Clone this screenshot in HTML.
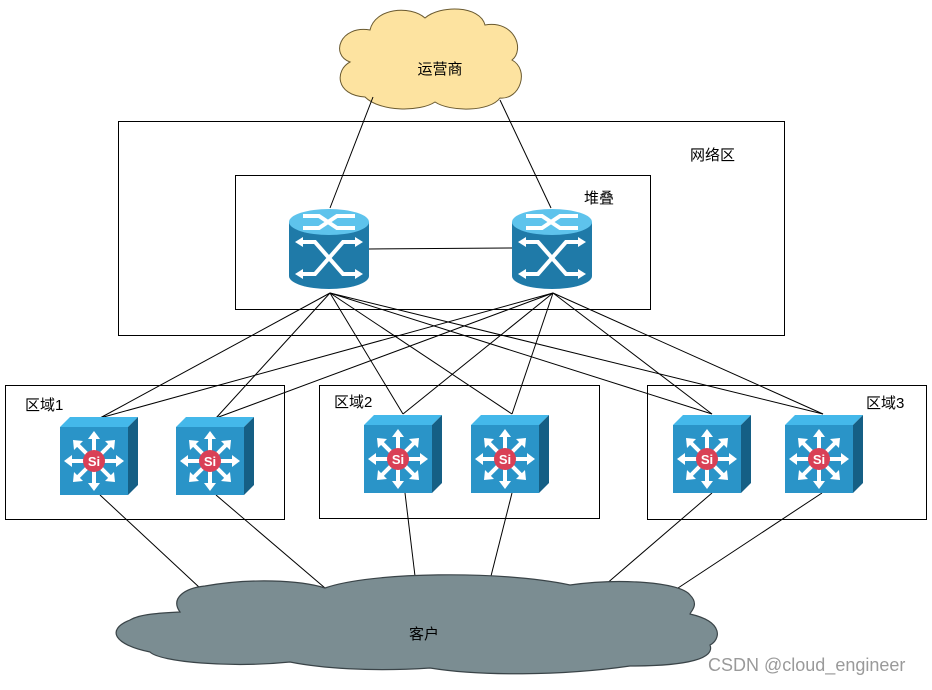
<!DOCTYPE html>
<html><head><meta charset="utf-8"><style>
body{margin:0;background:#fff;width:932px;height:685px;overflow:hidden}
text{font-family:"Liberation Sans","Noto Sans CJK SC",sans-serif;font-size:15px;fill:#000}
</style></head><body>
<svg width="932" height="685" xmlns="http://www.w3.org/2000/svg">
<defs>
<g id="rt">
  <path d="M0,14 L0,68 A40,13 0 0 0 80,68 L80,14 Z" fill="#1f7aa8"/>
  <ellipse cx="40" cy="14" rx="40" ry="13" fill="#5ec3ec"/>
  <g stroke="#fff" stroke-width="4" fill="none">
    <path d="M14,8 L30,8 L48,20 L66,20 M14,20 L30,20 L48,8 L66,8"/>
    <path d="M12,34 L26,34 L54,66 L68,66 M12,66 L26,66 L54,34 L68,34"/>
  </g>
  <g fill="#fff">
    <path d="M6,34 L14,29 L14,39Z M74,34 L66,29 L66,39Z M6,66 L14,61 L14,71Z M74,66 L66,61 L66,71Z"/>
  </g>
</g>
<g id="sw">
  <path d="M0,10 L10,0 L78,0 L68,10Z" fill="#44b8ea"/>
  <path d="M68,10 L78,0 L78,68 L68,78Z" fill="#155f85"/>
  <rect x="0" y="10" width="68" height="68" fill="#2a94c8"/>
  <g stroke="#fff" stroke-width="4">
    <path d="M34,18 L34,70 M8,44 L60,44 M16,26 L52,62 M52,26 L16,62"/>
  </g>
  <g fill="#fff">
    <path d="M34,14 L28,22 L40,22Z M34,74 L28,66 L40,66Z M4,44 L12,38 L12,50Z M64,44 L56,38 L56,50Z"/>
    <path d="M13,23 L23,24 L14,33Z M55,23 L45,24 L54,33Z M13,65 L23,64 L14,55Z M55,65 L45,64 L54,55Z"/>
  </g>
  <circle cx="34" cy="44" r="11" fill="#d94056"/>
  <text x="34" y="49" text-anchor="middle" style="font-size:13px;font-weight:bold;fill:#fff">Si</text>
</g>
</defs>

<g fill="#fde3a0" stroke="#6a5a30" stroke-width="1">
  <path d="M365,97 C335,95 335,70 350,62 C330,55 340,25 370,30 C375,8 410,5 425,18 C440,5 480,5 485,25 C515,20 525,50 512,60 C530,70 520,100 500,98 C490,112 450,112 435,102 C420,112 380,112 365,97Z"/>
</g>
<text x="440" y="74" text-anchor="middle">运营商</text>

<g fill="none" stroke="#000" stroke-width="1">
  <rect x="118.5" y="121.5" width="666" height="214"/>
  <rect x="235.5" y="175.5" width="415" height="134"/>
  <rect x="5.5" y="385.5" width="279" height="134"/>
  <rect x="319.5" y="385.5" width="280" height="133"/>
  <rect x="647.5" y="385.5" width="279" height="134"/>
</g>
<text x="690" y="160">网络区</text>
<text x="584" y="203">堆叠</text>
<text x="25" y="410">区域1</text>
<text x="334" y="407">区域2</text>
<text x="866" y="408">区域3</text>

<g stroke="#000" stroke-width="1">
  <line x1="373" y1="97" x2="330" y2="208"/>
  <line x1="500" y1="100" x2="551" y2="208"/>
  <line x1="369" y1="249" x2="512" y2="248"/>
  <line x1="330" y1="293" x2="100" y2="418"/>
  <line x1="330" y1="293" x2="216" y2="418"/>
  <line x1="330" y1="293" x2="403" y2="414"/>
  <line x1="330" y1="293" x2="512" y2="414"/>
  <line x1="330" y1="293" x2="712" y2="414"/>
  <line x1="330" y1="293" x2="823" y2="414"/>
  <line x1="553" y1="293" x2="100" y2="418"/>
  <line x1="553" y1="293" x2="216" y2="418"/>
  <line x1="553" y1="293" x2="403" y2="414"/>
  <line x1="553" y1="293" x2="512" y2="414"/>
  <line x1="553" y1="293" x2="712" y2="414"/>
  <line x1="553" y1="293" x2="823" y2="414"/>
  <line x1="100" y1="495" x2="200" y2="588"/>
  <line x1="216" y1="495" x2="325" y2="588"/>
  <line x1="405" y1="493" x2="415" y2="576"/>
  <line x1="512" y1="493" x2="490" y2="580"/>
  <line x1="712" y1="493" x2="605" y2="585"/>
  <line x1="822" y1="493" x2="675" y2="590"/>
</g>

<use href="#rt" x="289" y="208"/>
<use href="#rt" x="512" y="208"/>

<use href="#sw" x="60" y="417"/>
<use href="#sw" x="176" y="417"/>
<use href="#sw" x="364" y="415"/>
<use href="#sw" x="471" y="415"/>
<use href="#sw" x="673" y="415"/>
<use href="#sw" x="785" y="415"/>

<path d="M180,612 C170,598 185,588 205,586 C250,578 300,580 325,588 C370,572 500,570 570,585 C620,578 680,582 690,595 C700,605 690,612 690,614 C725,622 720,640 710,645 C715,658 690,666 630,666 C560,676 480,676 430,668 C370,672 320,668 290,662 C230,668 160,662 150,652 C115,645 105,630 130,620 C140,614 160,613 180,612Z" fill="#7b8d92" stroke="#3a4448" stroke-width="1.2"/>
<text x="424" y="639" text-anchor="middle">客户</text>

<text x="708" y="671" style="font-size:18px;fill:#9a9a9a">CSDN @cloud_engineer</text>
</svg>
</body></html>
